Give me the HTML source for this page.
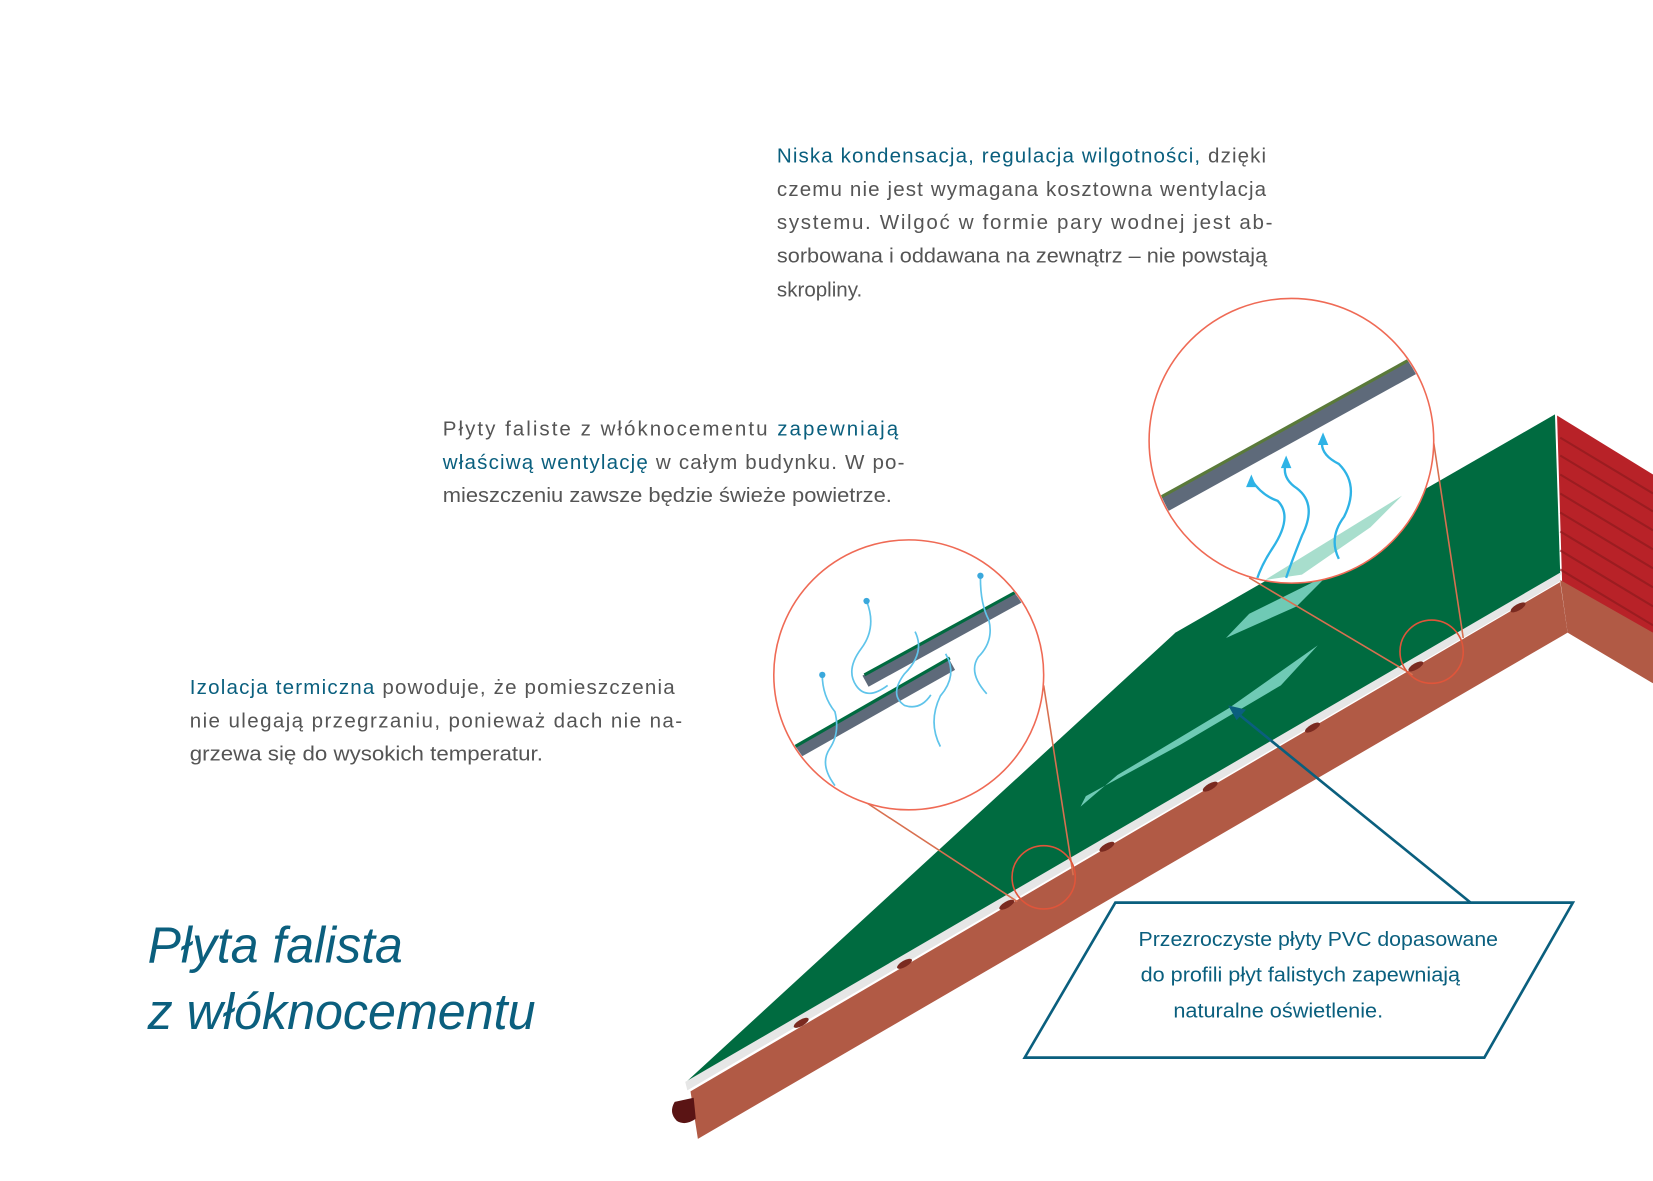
<!DOCTYPE html>
<html><head><meta charset="utf-8"><style>
html,body{margin:0;padding:0;background:#fff;}
svg{display:block;}
text{font-family:"Liberation Sans","DejaVu Sans",sans-serif;}
</style></head><body>
<svg width="1653" height="1181" viewBox="0 0 1568 1120" preserveAspectRatio="none" xmlns="http://www.w3.org/2000/svg">
<defs>
<clipPath id="c1"><circle cx="862" cy="640" r="127"/></clipPath>
<clipPath id="c2"><circle cx="1225" cy="418" r="134"/></clipPath>
</defs>
<rect width="1568" height="1120" fill="#fff"/>
<polygon points="1477,394 1568,450 1568,612 1482,560" fill="#b82228"/>
<g stroke="#8f1a1e" stroke-width="2" opacity="0.7">
<line x1="1480" y1="415" x2="1568" y2="468"/><line x1="1480" y1="432" x2="1568" y2="485"/>
<line x1="1480" y1="450" x2="1568" y2="503"/><line x1="1480" y1="468" x2="1568" y2="521"/>
<line x1="1480" y1="486" x2="1568" y2="539"/><line x1="1480" y1="504" x2="1568" y2="557"/>
<line x1="1480" y1="522" x2="1568" y2="575"/><line x1="1480" y1="540" x2="1568" y2="593"/>
</g>
<polygon points="1480,550 1568,600 1568,648 1487,600" fill="#b15a45"/>
<polygon points="655,1035 1480,552 1487,600 662,1080" fill="#b15a45"/>
<path d="M640,1045 q-6,10 2,18 q8,5 18,-2 l-2,-20 z" fill="#5a1414"/>
<polygon points="652,1025 1115,600 1475,393 1480,545 652,1030" fill="#006b40"/>
<polygon points="650,1026 1480,543 1480,551 652,1034" fill="#e6e6e6"/>
<g fill="#7a2a20">
<ellipse cx="760" cy="970" rx="8" ry="3" transform="rotate(-30 760 970)"/>
<ellipse cx="858" cy="914" rx="8" ry="3" transform="rotate(-30 858 914)"/>
<ellipse cx="955" cy="858" rx="8" ry="3" transform="rotate(-30 955 858)"/>
<ellipse cx="1050" cy="803" rx="8" ry="3" transform="rotate(-30 1050 803)"/>
<ellipse cx="1148" cy="746" rx="8" ry="3" transform="rotate(-30 1148 746)"/>
<ellipse cx="1245" cy="690" rx="8" ry="3" transform="rotate(-30 1245 690)"/>
<ellipse cx="1343" cy="632" rx="8" ry="3" transform="rotate(-30 1343 632)"/>
<ellipse cx="1440" cy="576" rx="8" ry="3" transform="rotate(-30 1440 576)"/>
</g>
<polygon points="1025,765 1060,735 1165,672 1250,612 1215,650 1120,706 1030,755" fill="#6fcab5"/>
<polygon points="1163,605 1185,582 1260,545 1230,575" fill="#6fcab5"/>
<g stroke="#d87050" stroke-width="1.5" fill="none">
<line x1="820" y1="760" x2="965" y2="855"/><line x1="990" y1="650" x2="1018" y2="830"/>
<line x1="1185" y1="548" x2="1340" y2="640"/><line x1="1360" y1="420" x2="1388" y2="605"/>
<circle cx="990" cy="832" r="30" stroke="#e0553a"/>
<circle cx="1358" cy="618" r="30" stroke="#e0553a"/>
</g>
<!-- circle 1 -->
<circle cx="862" cy="640" r="128" fill="#fff" stroke="#ef6a55" stroke-width="1.5"/>
<g clip-path="url(#c1)">
<line x1="821" y1="646" x2="990" y2="553" stroke="#5e6a7a" stroke-width="12"/>
<line x1="820" y1="640" x2="990" y2="547" stroke="#006b40" stroke-width="3"/>
<line x1="735" y1="725" x2="903" y2="630" stroke="#5e6a7a" stroke-width="12"/>
<line x1="735" y1="719" x2="901" y2="624" stroke="#006b40" stroke-width="3"/>
<g stroke="#5fc4ea" stroke-width="1.6" fill="none">
<path d="M868,599 q10,20 -10,40 q-15,20 0,30 q15,5 25,-10"/>
<path d="M822,570 q10,25 -5,45 q-15,20 -5,35 q10,15 30,0"/>
<path d="M780,640 q0,20 12,35 q5,20 -5,35 q-10,15 5,35"/>
<path d="M930,548 q0,25 8,40 q5,20 -10,35 q-10,15 8,35"/>
<path d="M897,620 q12,20 -5,40 q-12,25 0,48"/>
</g>
<g fill="#3aa8dc"><circle cx="822" cy="570" r="3"/><circle cx="780" cy="640" r="3"/><circle cx="930" cy="546" r="3"/></g>
</g>
<!-- circle 2 -->
<circle cx="1225" cy="418" r="135" fill="#fff" stroke="#ef6a55" stroke-width="1.5"/>
<g clip-path="url(#c2)">
<polygon points="1200,550 1330,470 1300,500 1235,545" fill="#9edac8" opacity="0.9"/>
<line x1="1095" y1="484" x2="1350" y2="343" stroke="#5e6a7a" stroke-width="14"/>
<line x1="1093" y1="476" x2="1348" y2="335" stroke="#5a7a3a" stroke-width="3"/>
<g stroke="#2eb3e6" stroke-width="2.2" fill="none">
<path d="M1187,455 q10,15 25,20 q15,15 -5,45 q-10,15 -15,30"/>
<path d="M1220,438 q-5,15 10,25 q20,15 5,45 q-10,25 -15,40"/>
<path d="M1255,415 q-5,15 15,25 q20,20 5,50 q-15,20 -5,40"/>
</g>
<g fill="#2eb3e6"><polygon points="1187,450 1182,462 1192,462"/><polygon points="1220,432 1215,444 1225,444"/><polygon points="1255,410 1250,422 1260,422"/></g>
</g>
<line x1="1395" y1="856" x2="1172" y2="675" stroke="#0a5f7e" stroke-width="2.5"/>
<polygon points="1165,669 1182,673 1173,683" fill="#0a5f7e"/>
<polygon points="1058,856 1492,856 1408,1003 972,1003" fill="#fff" stroke="#0a5f7e" stroke-width="2.5"/>
<g fill="#0a5f7e" font-size="19">
<text x="1080" y="897" textLength="341" lengthAdjust="spacingAndGlyphs">Przezroczyste płyty PVC dopasowane</text>
<text x="1082" y="931" textLength="303" lengthAdjust="spacingAndGlyphs">do profili płyt falistych zapewniają</text>
<text x="1113" y="965" textLength="199" lengthAdjust="spacingAndGlyphs">naturalne oświetlenie.</text>
</g>
<g font-size="19.5" fill="#555">
<text x="737" y="154" textLength="464" lengthAdjust="spacing"><tspan fill="#0a5f7e">Niska kondensacja, regulacja wilgotności,</tspan> dzięki</text>
<text x="737" y="186" textLength="464" lengthAdjust="spacing">czemu nie jest wymagana kosztowna wentylacja</text>
<text x="737" y="217" textLength="470" lengthAdjust="spacing">systemu. Wilgoć w formie pary wodnej jest ab-</text>
<text x="737" y="249" textLength="465" lengthAdjust="spacingAndGlyphs">sorbowana i oddawana na zewnątrz – nie powstają</text>
<text x="737" y="281">skropliny.</text>
<text x="420" y="413" textLength="432" lengthAdjust="spacing">Płyty faliste z włóknocementu <tspan fill="#0a5f7e">zapewniają</tspan></text>
<text x="420" y="445" textLength="438" lengthAdjust="spacing"><tspan fill="#0a5f7e">właściwą wentylację</tspan> w całym budynku. W po-</text>
<text x="420" y="476" textLength="426" lengthAdjust="spacingAndGlyphs">mieszczeniu zawsze będzie świeże powietrze.</text>
<text x="180" y="658" textLength="460" lengthAdjust="spacing"><tspan fill="#0a5f7e">Izolacja termiczna</tspan> powoduje, że pomieszczenia</text>
<text x="180" y="690" textLength="467" lengthAdjust="spacing">nie ulegają przegrzaniu, ponieważ dach nie na-</text>
<text x="180" y="721" textLength="335" lengthAdjust="spacingAndGlyphs">grzewa się do wysokich temperatur.</text>
</g>
<g font-size="48" font-style="italic" fill="#0b5f7e">
<text x="140" y="913" textLength="242" lengthAdjust="spacingAndGlyphs">Płyta falista</text>
<text x="140" y="976" textLength="368" lengthAdjust="spacingAndGlyphs">z włóknocementu</text>
</g>
</svg>
</body></html>
